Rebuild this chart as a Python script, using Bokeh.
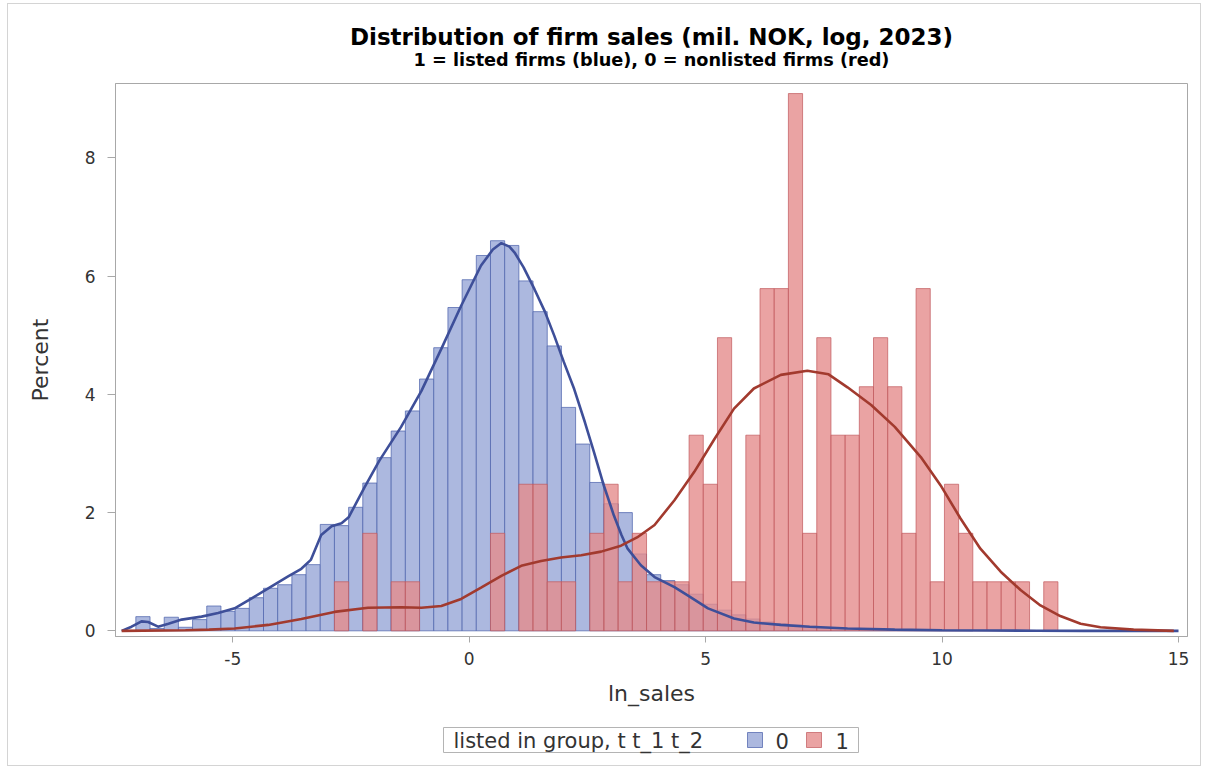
from bokeh.plotting import figure
from bokeh.layouts import column
from bokeh.models import Range1d, FixedTicker, ColumnDataSource
from bokeh.core.properties import value
from bokeh.embed import file_html
from bokeh.resources import INLINE

# ---------------- data ----------------
title_text = "Distribution of firm sales (mil. NOK, log, 2023)"
subtitle_text = "1 = listed firms (blue), 0 = nonlisted firms (red)"
x_label = "ln_sales"
y_label = "Percent"
legend_title = "listed in group, t t_1 t_2"
group_labels = ["0", "1"]
x_ticks = [-5, 0, 5, 10, 15]
x_tick_labels = ["-5", "0", "5", "10", "15"]
y_ticks = [0, 2, 4, 6, 8]
bin_width = 0.3

bin_centers = [-6.9, -6.6, -6.3, -6.0, -5.7, -5.4, -5.1, -4.8, -4.5, -4.2,
               -3.9, -3.6, -3.3, -3.0, -2.7, -2.4, -2.1, -1.8, -1.5, -1.2,
               -0.9, -0.6, -0.3, 0.0, 0.3, 0.6, 0.9, 1.2, 1.5, 1.8,
               2.1, 2.4, 2.7, 3.0, 3.3, 3.6, 3.9, 4.2, 4.5, 4.8,
               5.1, 5.4, 5.7, 6.0, 6.3, 6.6, 6.9, 7.2, 7.5, 7.8,
               8.1, 8.4, 8.7, 9.0, 9.3, 9.6, 9.9, 10.2, 10.5, 10.8,
               11.1, 11.4, 11.7, 12.0, 12.3]

# group 0 (blue) percent per bin
pct_group0 = [0.24, 0.04, 0.23, 0.06, 0.19, 0.42, 0.33, 0.38, 0.56, 0.72,
              0.78, 0.95, 1.12, 1.80, 1.78, 2.09, 2.50, 2.93, 3.38, 3.72,
              4.26, 4.79, 5.47, 5.94, 6.35, 6.60, 6.52, 5.92, 5.40, 4.82,
              3.78, 3.16, 2.51, 2.15, 2.00, 1.30, 0.95, 0.85, 0.78, 0.62,
              0.45, 0.35, 0.27, 0.20, 0.15, 0.12, 0.10, 0.08, 0.06, 0.05,
              0.04, 0.03, 0.03, 0.02, 0.02, 0.01, 0.01, 0.01, 0.01, 0.0,
              0.0, 0.0, 0.0, 0.0, 0.0]

# group 1 (red) percent per bin
pct_group1 = [0, 0, 0, 0, 0, 0, 0, 0, 0, 0,
              0, 0, 0, 0, 0.83, 0, 1.65, 0, 0.83, 0.83,
              0, 0, 0, 0, 0, 1.65, 0, 2.48, 2.48, 0.83,
              0.83, 0, 1.65, 2.48, 0.83, 1.65, 0.83, 0.83, 0.83, 3.31,
              2.48, 4.96, 0.83, 3.31, 5.79, 5.79, 9.09, 1.65, 4.96, 3.31,
              3.31, 4.13, 4.96, 4.13, 1.65, 5.79, 0.83, 2.48, 1.65, 0.83,
              0.83, 0.83, 0.83, 0, 0.83]

# kernel density curves (percent scale)
kde0_x = [-7.35, -7.14, -6.93, -6.79, -6.58, -6.36, -6.08, -5.66, -5.31, -4.96,
          -4.60, -4.25, -3.83, -3.55, -3.35, -3.13, -2.91, -2.70, -2.55, -2.22,
          -1.90, -1.44, -1.01, -0.59, -0.17, 0.25, 0.50, 0.68, 0.85, 0.96,
          1.15, 1.38, 1.60, 1.80, 2.00, 2.22, 2.45, 2.64, 2.85, 3.06,
          3.22, 3.35, 3.63, 3.92, 4.34, 4.62, 5.05,
          5.60, 6.02, 6.59, 7.20, 8.00, 9.00, 10.0, 11.0, 12.0, 13.0, 15.0]
kde0_y = [0.00, 0.07, 0.16, 0.15, 0.07, 0.12, 0.19, 0.24, 0.30, 0.38,
          0.55, 0.72, 0.92, 1.05, 1.20, 1.62, 1.77, 1.82, 1.92, 2.42,
          2.88, 3.45, 4.06, 4.77, 5.50, 6.18, 6.45, 6.56, 6.50, 6.40,
          6.15, 5.78, 5.40, 4.99, 4.55, 4.09, 3.52, 3.02, 2.45, 1.95,
          1.62, 1.39, 1.11, 0.91, 0.74, 0.60, 0.38,
          0.21, 0.14, 0.10, 0.07, 0.04, 0.02, 0.01, 0.005, 0.002, 0.0, 0.0]

kde1_x = [-7.35, -6.0, -5.5, -4.96, -4.25, -3.55, -2.85, -2.14, -1.44, -1.01,
          -0.59, -0.17, 0.25, 0.68, 1.10, 1.52, 1.94, 2.37, 2.79, 3.21,
          3.55, 3.92, 4.34, 4.76, 5.19, 5.60, 6.02, 6.59, 7.15, 7.60,
          8.00, 8.50, 9.00, 9.55, 9.97, 10.39, 10.81, 11.24, 11.66, 12.08,
          12.50, 12.93, 13.35, 14.05, 14.90]
kde1_y = [0.0, 0.01, 0.02, 0.04, 0.10, 0.20, 0.32, 0.39, 0.40, 0.39,
          0.42, 0.54, 0.73, 0.93, 1.10, 1.18, 1.24, 1.28, 1.34, 1.44,
          1.58, 1.79, 2.21, 2.69, 3.25, 3.76, 4.10, 4.33, 4.40, 4.34,
          4.12, 3.82, 3.45, 2.94, 2.46, 1.90, 1.39, 1.00, 0.69, 0.43,
          0.25, 0.12, 0.06, 0.02, 0.0]

# ---------------- styles ----------------
FONT = "DejaVu Sans"
BLUE_FILL, BLUE_EDGE, BLUE_LINE = "#ACB8DF", "#5066AE", "#3E4F99"
RED_FILL, RED_EDGE, RED_LINE = "#E58C8C", "#C0595C", "#A23A2E"
TEXT_COL = "#333333"
AXIS_COL = "#a8a8a8"
W = 1192
FRAME_L, FRAME_R = 107, 1179   # frame edges in layout pixels (shared by all strips)


def strip(height):
    """A blank figure whose data coordinates are layout pixels."""
    f = figure(width=W, height=height, output_backend="svg", toolbar_location=None,
               x_range=Range1d(FRAME_L, FRAME_R), y_range=Range1d(0, height),
               x_axis_type=None, y_axis_type=None,
               min_border_left=FRAME_L, min_border_right=W - FRAME_R,
               min_border_top=0, min_border_bottom=0)
    f.grid.visible = False
    f.outline_line_color = None
    f.background_fill_color = "white"
    f.border_fill_color = "white"
    return f


# ---------------- title strip ----------------
top = strip(70)
top.text(x=[643], y=[38], text=[title_text], text_font=value(FONT),
         text_font_size=value("23px"), text_font_style="bold",
         text_color="#000000", text_align="center", text_baseline="middle")
top.text(x=[643], y=[15], text=[subtitle_text], text_font=value(FONT),
         text_font_size=value("17.7px"), text_font_style="bold",
         text_color="#000000", text_align="center", text_baseline="middle")

# ---------------- main figure ----------------
p = figure(width=W, height=638, output_backend="svg", toolbar_location=None,
           x_range=Range1d(-7.48, 15.19), y_range=Range1d(-0.096, 9.26),
           min_border_left=FRAME_L, min_border_right=W - FRAME_R, min_border_top=9,
           min_border_bottom=76)
p.background_fill_color = "white"
p.border_fill_color = "white"
p.grid.visible = False
p.outline_line_color = AXIS_COL
p.outline_line_width = 1

src0 = ColumnDataSource(dict(x=[c for c, v in zip(bin_centers, pct_group0) if v > 0],
                             top=[v for v in pct_group0 if v > 0]))
src1 = ColumnDataSource(dict(x=[c for c, v in zip(bin_centers, pct_group1) if v > 0],
                             top=[v for v in pct_group1 if v > 0]))

p.vbar(x="x", top="top", bottom=0, width=bin_width, source=src0,
       fill_color=BLUE_FILL, fill_alpha=1.0,
       line_color=BLUE_EDGE, line_alpha=0.75, line_width=1)
p.vbar(x="x", top="top", bottom=0, width=bin_width, source=src1,
       fill_color=RED_FILL, fill_alpha=0.8,
       line_color=RED_EDGE, line_alpha=0.7, line_width=1)

p.line(kde0_x, kde0_y, line_color=BLUE_LINE, line_width=2.6)
p.line(kde1_x, kde1_y, line_color=RED_LINE, line_width=2.6)

for ax in (p.xaxis, p.yaxis):
    ax.axis_line_color = AXIS_COL
    ax.major_tick_line_color = AXIS_COL
    ax.minor_tick_line_color = None
    ax.major_tick_in = 0
    ax.major_label_text_font = FONT
    ax.major_label_text_font_size = "17px"
    ax.major_label_text_color = TEXT_COL
    ax.axis_label_text_font = FONT
    ax.axis_label_text_font_size = "22px"
    ax.axis_label_text_font_style = "normal"
    ax.axis_label_text_color = TEXT_COL

p.xaxis.ticker = FixedTicker(ticks=x_ticks)
p.xaxis.major_label_overrides = {t: s for t, s in zip(x_ticks, x_tick_labels)}
p.yaxis.ticker = FixedTicker(ticks=y_ticks)
p.xaxis.axis_label = x_label
p.yaxis.axis_label = y_label
p.xaxis.major_tick_out = 6
p.yaxis.major_tick_out = 8
p.xaxis.major_label_standoff = 9
p.yaxis.major_label_standoff = 12
p.xaxis.axis_label_standoff = 13
p.yaxis.axis_label_standoff = 29

# ---------------- legend strip ----------------
leg = strip(53)
leg.quad(left=[435], right=[850], bottom=[13], top=[38],
         fill_color="white", line_color="#b4b4b4", line_width=1)
leg.quad(left=[739], right=[754], bottom=[18], top=[33],
         fill_color=BLUE_FILL, line_color=BLUE_EDGE, line_alpha=0.75)
leg.quad(left=[798], right=[813], bottom=[18], top=[33],
         fill_color=RED_FILL, fill_alpha=0.8, line_color=RED_EDGE, line_alpha=0.7)
leg.text(x=[445, 767, 827], y=[25, 25, 25],
         text=[legend_title, group_labels[0], group_labels[1]],
         text_font=value(FONT), text_font_size=value("21px"),
         text_color=TEXT_COL, text_baseline="middle", text_align="left")

layout = column(top, p, leg, spacing=0,
                styles={"margin-left": "7px", "margin-top": "3px",
                        "border": "1px solid #d4d4d4"})

open("out.html", "w").write(file_html(layout, INLINE))
